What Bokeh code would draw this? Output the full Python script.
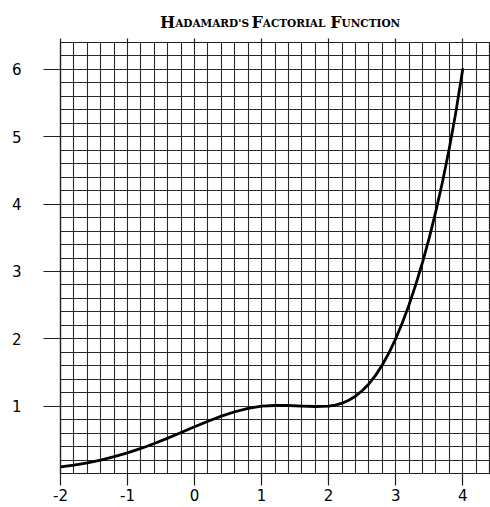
from bokeh.plotting import figure
from bokeh.models import FixedTicker, LinearAxis, Range1d
from bokeh.layouts import column
from bokeh.core.properties import value
from bokeh.embed import file_html
from bokeh.resources import INLINE

# ---- data ----
x_values = [-2.0, -1.8, -1.6, -1.4, -1.2, -1.0, -0.8, -0.6, -0.4, -0.2,
            0.0, 0.2, 0.4, 0.6, 0.8, 1.0, 1.2, 1.4, 1.6, 1.8,
            2.0, 2.1, 2.2, 2.3, 2.4, 2.5, 2.6, 2.7, 2.8, 2.9,
            3.0, 3.1, 3.2, 3.3, 3.4, 3.5, 3.6, 3.7, 3.8, 3.9, 4.0]
h_values = [0.097, 0.125, 0.159, 0.200, 0.250, 0.307, 0.372, 0.445, 0.525, 0.608,
            0.693, 0.776, 0.852, 0.917, 0.968, 1.000, 1.010, 1.010, 1.001, 0.995,
            1.000, 1.016, 1.044, 1.087, 1.148, 1.229, 1.330, 1.457, 1.611, 1.791,
            2.000, 2.238, 2.506, 2.804, 3.133, 3.495, 3.895, 4.335, 4.825, 5.375, 6.000]

x_tick_values = [-2, -1, 0, 1, 2, 3, 4]
x_tick_labels = ["-2", "-1", "0", "1", "2", "3", "4"]
y_tick_values = [1, 2, 3, 4, 5, 6]
x_limits = (-2.0, 4.4)
y_limits = (0.0, 6.4)
grid_step = 0.2

# title "Hadamard's Factorial Function" set in small capitals:
# each word = a large initial (right-aligned) + small capitals (left-aligned) at the same anchor
cap_parts = ["H", "F", "F"]
small_parts = ["ADAMARD'S", "ACTORIAL", "UNCTION"]

# ---- layout / styling ----
W = 490
TITLE_H = 38
MAIN_H = 507 - TITLE_H
FRAME_LEFT = 60
INK = "#1e1e1e"

t = figure(width=W, height=TITLE_H, output_backend="svg", toolbar_location=None,
           x_range=Range1d(0, W), y_range=Range1d(0, TITLE_H),
           x_axis_type=None, y_axis_type=None,
           min_border=0, min_border_left=0, min_border_right=0,
           min_border_top=0, min_border_bottom=0)
t.grid.visible = False
t.outline_line_color = None
t.background_fill_color = "white"
t.border_fill_color = "white"
baseline = 16
word_anchor = [131, 231, 321]   # pixel positions where each initial ends
t.text(x=word_anchor, y=[baseline] * 3, text=cap_parts,
       text_font=value("DejaVu Serif"), text_font_style="bold", text_font_size="16px",
       text_color="black", text_align="right", text_baseline="alphabetic")
t.text(x=word_anchor, y=[baseline] * 3, text=small_parts,
       text_font=value("DejaVu Serif"), text_font_style="bold", text_font_size="10.5px",
       text_color="black", text_align="left", text_baseline="alphabetic")

p = figure(width=W, height=MAIN_H, output_backend="svg", toolbar_location=None,
           x_range=Range1d(*x_limits), y_range=Range1d(*y_limits),
           min_border_left=FRAME_LEFT, min_border_right=1, min_border_top=4, min_border_bottom=34,
           background_fill_color="white", border_fill_color="white")

n_x = int(round((x_limits[1] - x_limits[0]) / grid_step))
n_y = int(round((y_limits[1] - y_limits[0]) / grid_step))
grid_x = [round(x_limits[0] + grid_step * i, 2) for i in range(n_x + 1)]
grid_y = [round(y_limits[0] + grid_step * i, 2) for i in range(n_y + 1)]

p.xgrid.ticker = FixedTicker(ticks=grid_x)
p.ygrid.ticker = FixedTicker(ticks=grid_y)
for g in (p.xgrid, p.ygrid):
    g.grid_line_color = INK
    g.grid_line_width = 1.1
    g.grid_line_alpha = 0.95

p.outline_line_color = INK
p.outline_line_width = 1.2

xa = p.xaxis[0]
ya = p.yaxis[0]
for ax in (xa, ya):
    ax.axis_line_color = INK
    ax.axis_line_width = 1.2
    ax.major_tick_line_color = INK
    ax.major_tick_line_width = 1.2
    ax.major_tick_in = 0
    ax.minor_tick_line_color = None
    ax.major_label_text_font = "DejaVu Sans"
    ax.major_label_text_font_size = "15px"
    ax.major_label_text_color = "black"

xa.ticker = FixedTicker(ticks=x_tick_values)
xa.major_label_overrides = dict(zip(x_tick_values, x_tick_labels))
xa.major_tick_out = 12
xa.major_label_standoff = 3

ya.ticker = FixedTicker(ticks=y_tick_values)
ya.major_tick_out = 17
ya.major_label_standoff = 22

top_axis = LinearAxis(ticker=FixedTicker(ticks=x_tick_values),
                      major_tick_out=4, major_tick_in=0,
                      major_tick_line_color=INK, major_tick_line_width=1.2,
                      minor_tick_line_color=None, axis_line_color=INK,
                      major_label_overrides={tv: "" for tv in x_tick_values})
p.add_layout(top_axis, "above")

p.line(x_values, h_values, line_color="black", line_width=2.8, line_join="round", line_cap="round")

layout = column(t, p, spacing=0)
open("out.html", "w").write(file_html(layout, INLINE))
